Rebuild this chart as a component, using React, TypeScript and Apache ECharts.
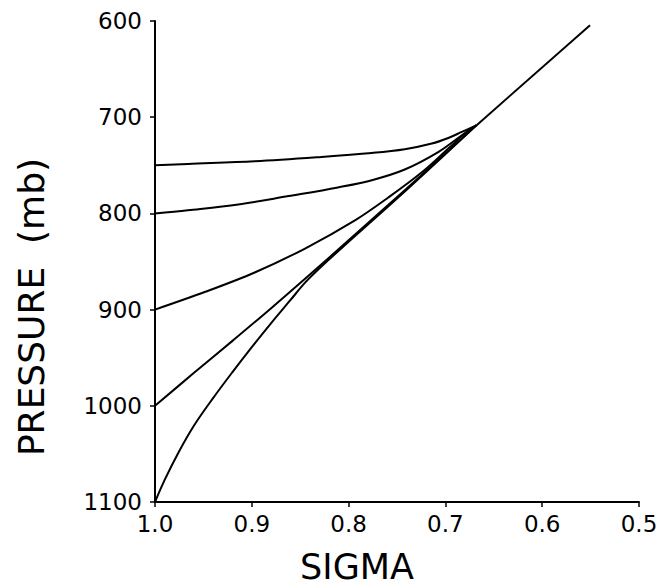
import React, { useEffect, useRef } from "react";
import * as echarts from "echarts";

const xTicks = [1.0, 0.9, 0.8, 0.7, 0.6, 0.5];
const yTicks = [600, 700, 800, 900, 1000, 1100];

const curve750: [number, number][] = [
  [1.0, 750], [0.966, 748.6], [0.897, 745.8], [0.828, 741.3], [0.776, 737.2],
  [0.742, 733.3], [0.714, 727.4], [0.697, 721.6], [0.683, 715.3], [0.668, 708.5],
];
const curve800: [number, number][] = [
  [1.0, 800], [0.966, 796.7], [0.914, 790.8], [0.862, 782], [0.811, 773],
  [0.776, 765.5], [0.742, 754.4], [0.707, 736], [0.683, 718.8], [0.668, 708.5],
];
const curve900: [number, number][] = [
  [1.0, 900], [0.948, 881.5], [0.897, 861.4], [0.845, 836.5], [0.793, 807],
  [0.759, 783.5], [0.724, 757], [0.697, 732.6], [0.676, 713.6], [0.668, 708.5],
];
const curve1000: [number, number][] = [
  [1.0, 1000], [0.96, 966], [0.92, 932.5], [0.88, 898.5], [0.84, 863.5],
  [0.8, 828], [0.76, 792], [0.72, 756], [0.668, 708.5],
];
const curve1100: [number, number][] = [
  [1.0, 1100], [0.99, 1077], [0.976, 1049], [0.96, 1021], [0.94, 992],
  [0.92, 965], [0.9, 939], [0.88, 914], [0.86, 890], [0.845, 872],
  [0.83, 857], [0.8, 829.5], [0.76, 793.5], [0.72, 757], [0.668, 708.5],
];
const upperLine: [number, number][] = [
  [0.668, 708.5], [0.5506, 604.5],
];

const FONT = "DejaVu Sans";

export default function App() {
  const ref = useRef<HTMLDivElement>(null);
  useEffect(() => {
    if (!ref.current) return;
    const chart = echarts.init(ref.current, undefined, { renderer: "svg" });
    const mkSeries = (name: string, data: [number, number][]) => ({
      name,
      type: "line",
      data,
      showSymbol: false,
      smooth: 0.35,
      lineStyle: { color: "#000", width: 2 },
    });
    chart.setOption({
      animation: false,
      backgroundColor: "#fff",
      grid: { left: 155, right: 30, top: 21, bottom: 84, containLabel: false },
      xAxis: {
        type: "value",
        min: 0.5,
        max: 1.0,
        interval: 0.1,
        inverse: true,
        position: "bottom",
        axisLine: { onZero: false, lineStyle: { color: "#000", width: 2 } },
        axisTick: { show: true, length: 5, lineStyle: { color: "#000", width: 1.5 } },
        axisLabel: {
          color: "#000",
          fontSize: 23,
          fontFamily: FONT,
          margin: 10,
          formatter: (v: number) => v.toFixed(1),
        },
        splitLine: { show: false },
      },
      yAxis: {
        type: "value",
        min: 600,
        max: 1100,
        interval: 100,
        inverse: true,
        axisLine: { show: true, onZero: false, lineStyle: { color: "#000", width: 2 } },
        axisTick: { show: true, length: 5, lineStyle: { color: "#000", width: 1.5 } },
        axisLabel: {
          color: "#000",
          fontSize: 23,
          fontFamily: FONT,
          margin: 13,
          formatter: (v: number) => String(v),
        },
        splitLine: { show: false },
      },
      graphic: [
        {
          type: "text",
          x: 31,
          y: 307,
          rotation: Math.PI / 2,
          style: {
            text: "PRESSURE  (mb)",
            fontSize: 36,
            fontFamily: FONT,
            fill: "#000",
            align: "center",
            verticalAlign: "middle",
          },
        },
        {
          type: "text",
          x: 357,
          y: 567,
          style: {
            text: "SIGMA",
            fontSize: 35,
            fontFamily: FONT,
            fill: "#000",
            align: "center",
            verticalAlign: "middle",
          },
        },
      ],
      series: [
        mkSeries("750", curve750),
        mkSeries("800", curve800),
        mkSeries("900", curve900),
        mkSeries("1000", curve1000),
        mkSeries("1100", curve1100),
        { ...mkSeries("upper", upperLine), smooth: false },
      ],
    });
    return () => chart.dispose();
  }, []);
  void xTicks;
  void yTicks;
  return (
    <div
      ref={ref}
      style={{ position: "absolute", left: 0, top: 0, width: 669, height: 586 }}
    />
  );
}
